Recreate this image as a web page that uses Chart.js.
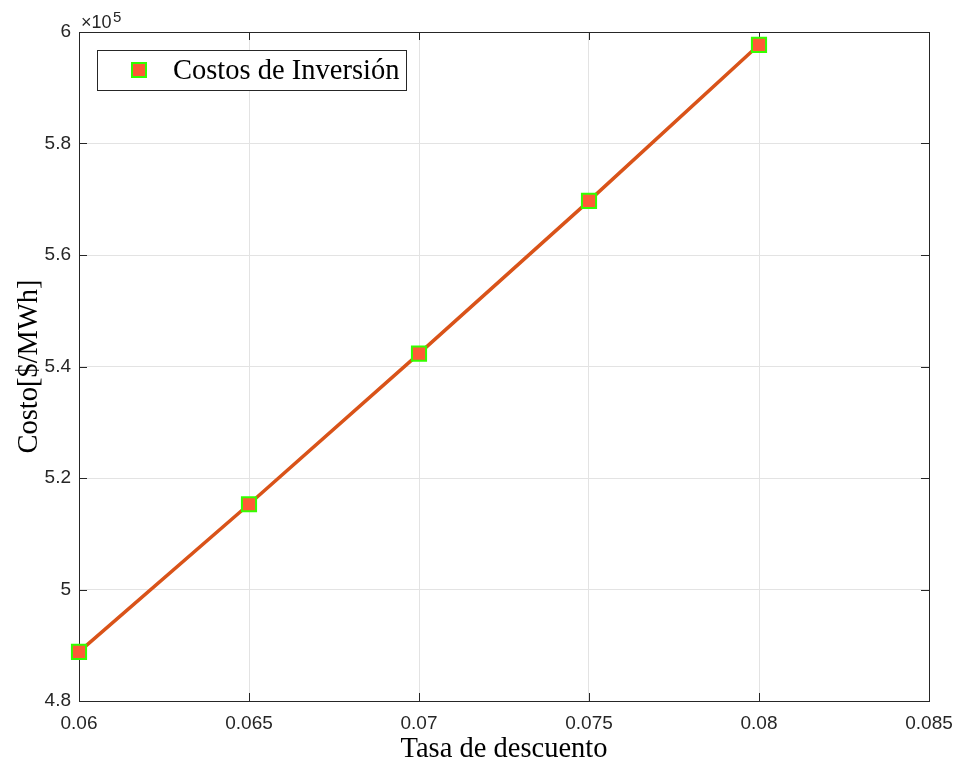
<!DOCTYPE html>
<html>
<head>
<meta charset="utf-8">
<script src="https://cdn.jsdelivr.net/npm/chart.js@4.4.0/dist/chart.umd.min.js"></script>
<style>
  html, body { margin: 0; padding: 0; background: #fff; }
  #wrap { width: 957px; height: 767px; }
</style>
</head>
<body>
<div id="wrap"><canvas id="graf" width="957" height="767"></canvas></div>
<script>
// datos
const tasas = [0.06, 0.065, 0.07, 0.075, 0.08];
const costos = [488800, 515300, 542300, 569700, 597700];
const xTicks = [0.06, 0.065, 0.07, 0.075, 0.08, 0.085];
const yTicks = [480000, 500000, 520000, 540000, 560000, 580000, 600000];
const serieNombre = "Costos de Inversión";

const sans = "'Liberation Sans', Arial, sans-serif";
const serif = "'Liberation Serif', 'Times New Roman', serif";
const axisColor = "#262626";

const puntos = tasas.map((t, i) => ({ x: t, y: costos[i] }));

// caja, marcas hacia adentro, x10^5 y leyenda
const matlabStyle = {
  id: "matlabStyle",
  beforeDatasetsDraw(chart) {
    const ctx = chart.ctx;
    const a = chart.chartArea;
    const xs = chart.scales.x, ys = chart.scales.y;
    ctx.save();
    ctx.strokeStyle = axisColor;
    ctx.lineWidth = 1;
    // marcas
    ctx.beginPath();
    xTicks.forEach(v => {
      const px = Math.round(xs.getPixelForValue(v)) + 0.5;
      ctx.moveTo(px, a.bottom); ctx.lineTo(px, a.bottom - 8);
      ctx.moveTo(px, a.top); ctx.lineTo(px, a.top + 8);
    });
    yTicks.forEach(v => {
      const py = Math.round(ys.getPixelForValue(v)) + 0.5;
      ctx.moveTo(a.left, py); ctx.lineTo(a.left + 8, py);
      ctx.moveTo(a.right, py); ctx.lineTo(a.right - 8, py);
    });
    ctx.stroke();
    // caja
    ctx.strokeRect(Math.round(a.left) + 0.5, Math.round(a.top) + 0.5,
                   Math.round(a.right - a.left), Math.round(a.bottom - a.top));
    // x10^5
    ctx.fillStyle = axisColor;
    ctx.textBaseline = "alphabetic";
    ctx.textAlign = "left";
    ctx.font = "18px " + sans;
    ctx.fillText("\u00d710", a.left + 2, a.top - 4);
    ctx.font = "15px " + sans;
    ctx.fillText("5", a.left + 34, a.top - 10);
    ctx.restore();
  },
  afterDraw(chart) {
    const ctx = chart.ctx;
    ctx.save();
    // leyenda
    const lx = 97, ly = 50, lw = 309, lh = 40;
    ctx.fillStyle = "#fff";
    ctx.fillRect(lx, ly, lw, lh);
    ctx.strokeStyle = "#262626";
    ctx.lineWidth = 1;
    ctx.strokeRect(lx + 0.5, ly + 0.5, lw, lh);
    const ds = chart.data.datasets[0];
    ctx.fillStyle = ds.pointBackgroundColor;
    ctx.strokeStyle = ds.pointBorderColor;
    ctx.lineWidth = 2;
    ctx.fillRect(132, 63, 14, 14);
    ctx.strokeRect(132, 63, 14, 14);
    ctx.fillStyle = "#000";
    ctx.font = "28.5px " + serif;
    ctx.textBaseline = "middle";
    ctx.fillText(serieNombre, 173, ly + lh / 2 + 2);
    ctx.restore();
  }
};

new Chart("graf", {
  type: "line",
  data: {
    datasets: [{
      label: serieNombre,
      data: puntos,
      clip: false,
      borderColor: "#D95319",
      borderWidth: 3.5,
      pointStyle: "rect",
      pointRadius: 10,
      pointHoverRadius: 10,
      pointBackgroundColor: "#FF5A36",
      pointBorderColor: "#33FF00",
      pointBorderWidth: 2,
      fill: false,
      tension: 0
    }]
  },
  options: {
    responsive: false,
    animation: false,
    events: [],
    layout: { padding: { top: 32, right: 28, left: 0, bottom: 0 } },
    plugins: { legend: { display: false }, tooltip: { enabled: false } },
    scales: {
      x: {
        type: "linear",
        min: 0.06, max: 0.085,
        afterBuildTicks: s => { s.ticks = xTicks.map(v => ({ value: v })); },
        afterFit: s => { s.height = 66; s.paddingLeft = 0; s.paddingRight = 0; },
        grid: { color: "#e3e3e3", drawTicks: false },
        border: { display: false },
        ticks: {
          color: axisColor, padding: 11,
          font: { family: sans, size: 19 },
          callback: v => String(+v.toFixed(3))
        },
        title: {
          display: true, text: "Tasa de descuento", color: "#000",
          font: { family: serif, size: 28.5 }, padding: { top: 3, bottom: 0 }
        }
      },
      y: {
        min: 480000, max: 600000,
        afterBuildTicks: s => { s.ticks = yTicks.map(v => ({ value: v })); },
        afterFit: s => { s.width = 79; s.paddingTop = 0; s.paddingBottom = 0; },
        grid: { color: "#e3e3e3", drawTicks: false },
        border: { display: false },
        ticks: {
          color: axisColor, padding: 8,
          font: { family: sans, size: 19 },
          callback: v => String(+(v / 1e5).toFixed(1))
        },
        title: {
          display: true, text: "Costo[$/MWh]", color: "#000",
          font: { family: serif, size: 28.5 }, padding: { top: 12, bottom: 0 }
        }
      }
    }
  },
  plugins: [matlabStyle]
});
</script>
</body>
</html>
